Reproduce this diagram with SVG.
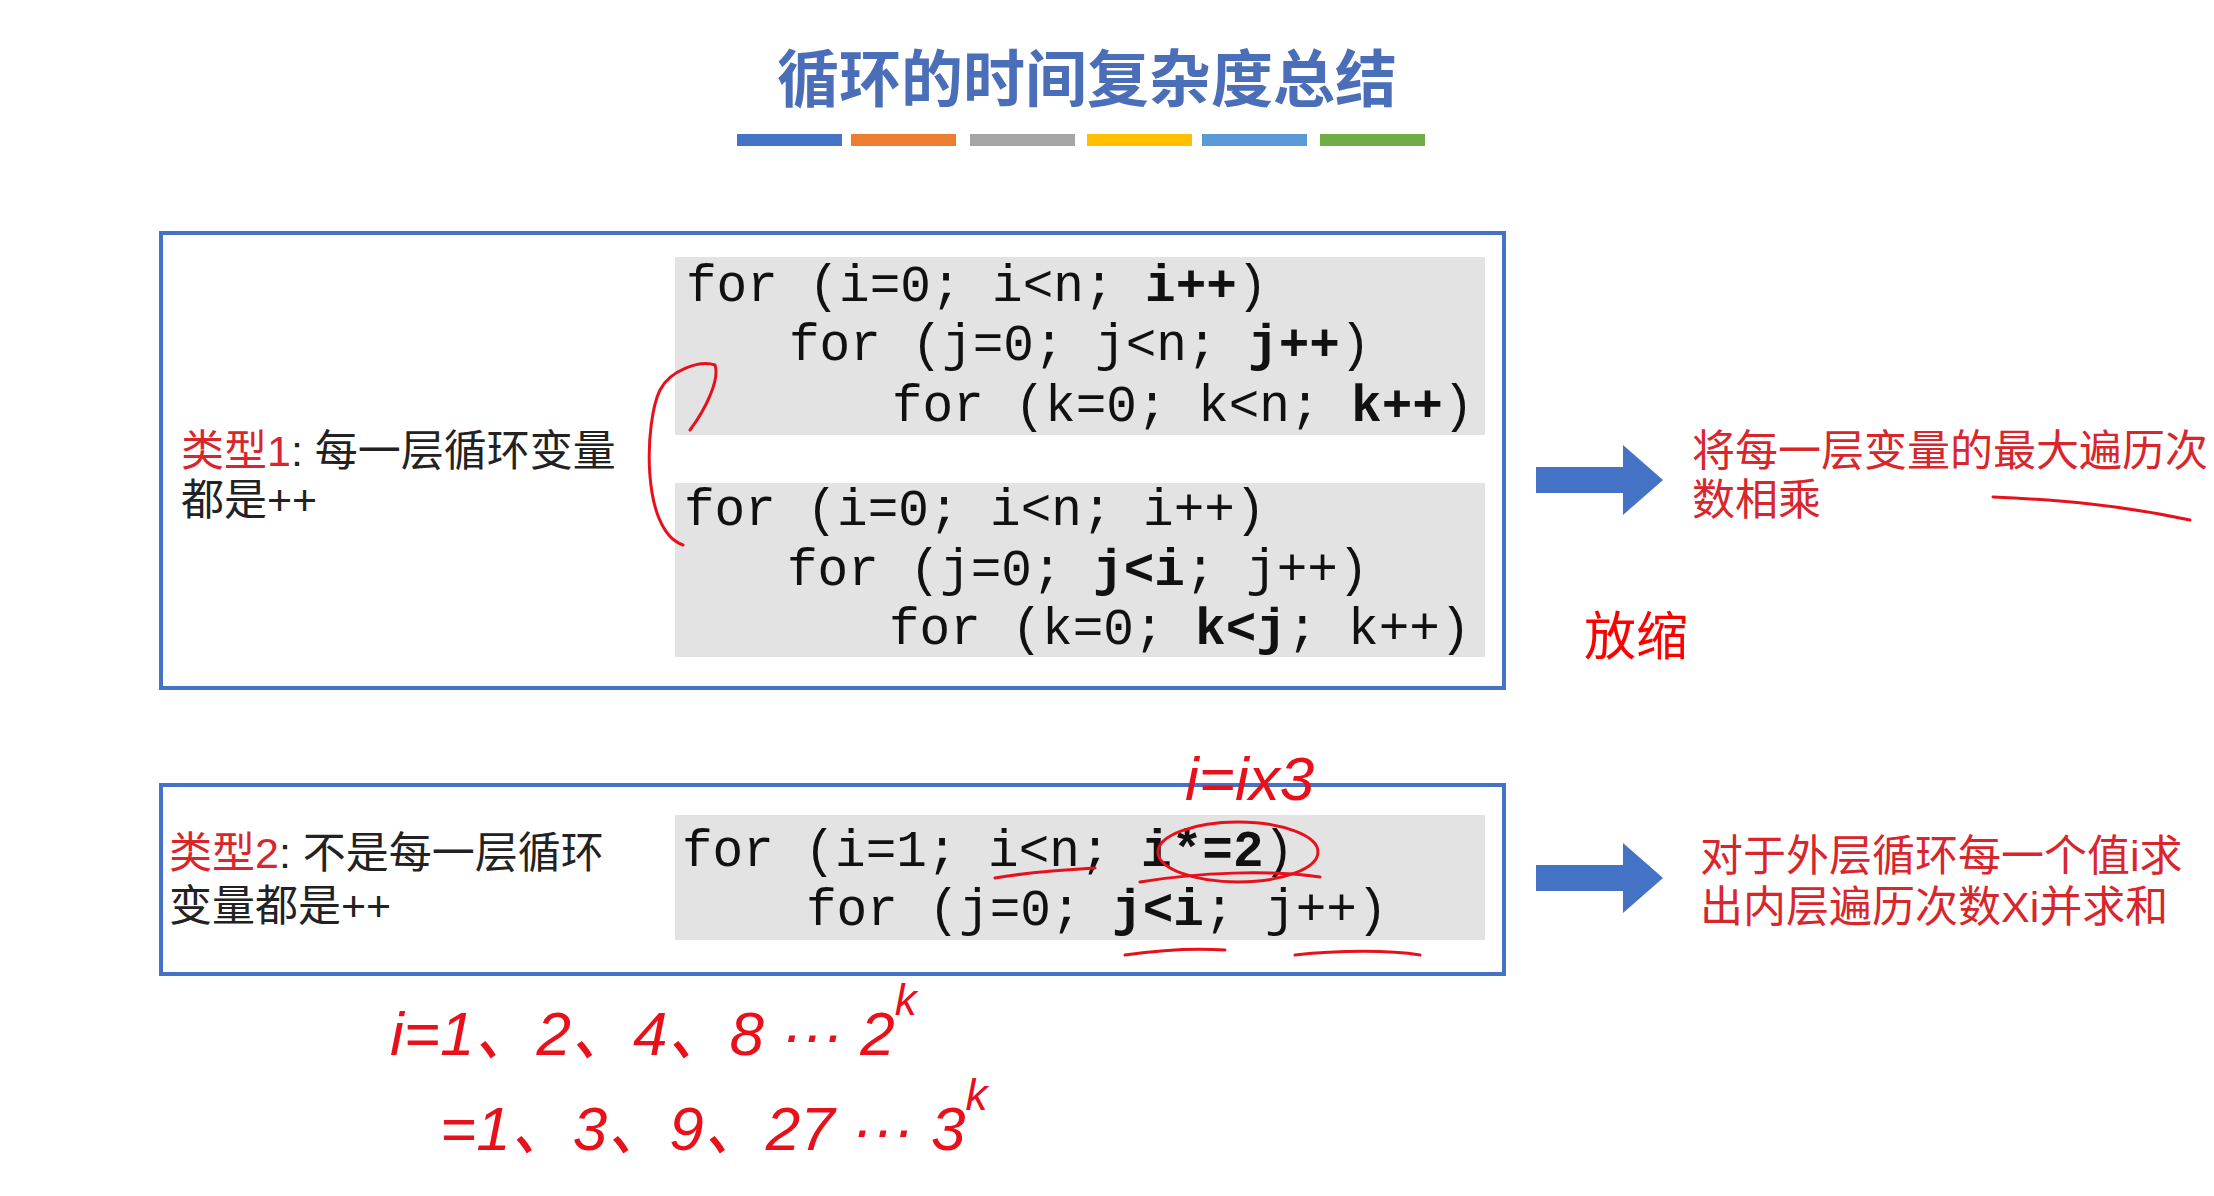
<svg xmlns="http://www.w3.org/2000/svg" width="2214" height="1196" viewBox="0 0 2214 1196">
<style>
.code{font-family:"Liberation Mono","DejaVu Sans Mono",monospace;font-size:51px;fill:#111}
.b{font-weight:bold}
.cn{font-family:"Liberation Sans","Noto Sans CJK SC",sans-serif;font-size:43px;fill:#222}
.red{fill:#d9262c}
.hand{font-family:"Liberation Sans","Noto Sans CJK SC",sans-serif;font-size:62px;fill:#e8101a;font-style:italic}
.box{fill:#fff;stroke:#4472c4;stroke-width:4}
.blk{fill:#e3e3e3}
.ink{fill:none;stroke:#e8101a;stroke-width:3;stroke-linecap:round}
</style>
<rect width="2214" height="1196" fill="#fff"/>
<g id="title">
<text x="1087" y="102" text-anchor="middle" font-family="Noto Sans CJK SC,sans-serif" font-size="62" font-weight="bold" fill="#4a6fb8">循环的时间复杂度总结</text>
<rect x="737" y="134" width="105" height="12" fill="#4472c4"/>
<rect x="851" y="134" width="105" height="12" fill="#ed7d31"/>
<rect x="970" y="134" width="105" height="12" fill="#a5a5a5"/>
<rect x="1087" y="134" width="105" height="12" fill="#ffc000"/>
<rect x="1202" y="134" width="105" height="12" fill="#5b9bd5"/>
<rect x="1320" y="134" width="105" height="12" fill="#70ad47"/>
</g>
<g id="type1">
<rect class="box" x="161" y="233" width="1343" height="455"/>
<rect class="blk" x="675" y="257" width="810" height="178"/>
<rect class="blk" x="675" y="483" width="810" height="174"/>
<text class="code" x="686" y="301">for (i=0; i&lt;n; <tspan class="b">i++</tspan>)</text>
<text class="code" x="789" y="360">for (j=0; j&lt;n; <tspan class="b">j++</tspan>)</text>
<text class="code" x="892" y="421">for (k=0; k&lt;n; <tspan class="b">k++</tspan>)</text>
<text class="code" x="684" y="525">for (i=0; i&lt;n; i++)</text>
<text class="code" x="787" y="585">for (j=0; <tspan class="b">j&lt;i</tspan>; j++)</text>
<text class="code" x="889" y="644">for (k=0; <tspan class="b">k&lt;j</tspan>; k++)</text>
<text class="cn" x="181" y="466"><tspan class="red">类型1</tspan>: 每一层循环变量</text>
<text class="cn" x="181" y="515">都是++</text>
</g>
<g id="type2">
<rect class="box" x="161" y="785" width="1343" height="189"/>
<rect class="blk" x="675" y="815" width="810" height="125"/>
<text class="code" x="682" y="866">for (i=1; i&lt;n; <tspan class="b">i*=2</tspan>)</text>
<text class="code" x="806" y="925">for (j=0; <tspan class="b">j&lt;i</tspan>; j++)</text>
<text class="cn" x="169" y="868"><tspan class="red">类型2</tspan>: 不是每一层循环</text>
<text class="cn" x="169" y="921">变量都是++</text>
</g>
<g id="result1">
<text class="cn red" x="1692" y="466">将每一层变量的最大遍历次</text>
<text class="cn red" x="1692" y="515">数相乘</text>
<text x="1584" y="655" font-family="Noto Sans CJK SC,sans-serif" font-size="52" fill="#ff0000">放缩</text>
</g>
<g id="result2">
<text class="cn red" x="1700" y="871">对于外层循环每一个值i求</text>
<text class="cn red" x="1700" y="922">出内层遍历次数Xi并求和</text>
</g>
<g id="connectors">
<path d="M1536 467 H1623 V445 L1663 480 L1623 515 V493 H1536 Z" fill="#4472c4"/>
<path d="M1536 865 H1623 V843 L1663 878 L1623 913 V891 H1536 Z" fill="#4472c4"/>
</g>
<g id="annotations">
<path class="ink" d="M683 545 C640 530 645 420 660 390 C670 370 700 360 715 365 C720 380 705 410 690 430"/>
<path class="ink" d="M1993 497 C2060 500 2120 505 2190 520"/>
<path class="ink" d="M995 878 C1030 872 1060 870 1095 868"/>
<ellipse class="ink" cx="1238" cy="852" rx="80" ry="30"/>
<path class="ink" d="M1140 882 C1200 872 1270 870 1320 877"/>
<path class="ink" d="M1125 955 C1160 950 1195 948 1225 950"/>
<path class="ink" d="M1295 955 C1340 950 1390 950 1420 955"/>
<text class="hand" x="1185" y="800">i=ix3</text>
<text class="hand" x="390" y="1055">i=1、2、4、8 ··· 2<tspan font-size="44" dy="-40">k</tspan></text>
<text class="hand" x="440" y="1150">=1、3、9、27 ··· 3<tspan font-size="44" dy="-40">k</tspan></text>
</g>
</svg>
